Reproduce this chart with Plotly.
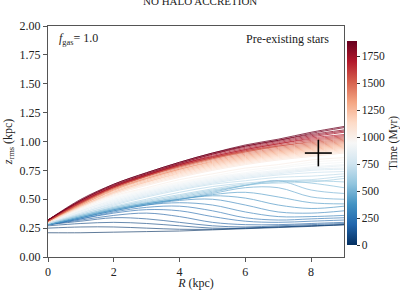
import plotly.graph_objects as go
from plotly.colors import sample_colorscale

R = [0, 1, 2, 3, 4, 5, 6, 7, 8, 9]

times = [0, 40, 80, 120, 160, 200, 240, 280, 320, 360, 400, 440, 480, 520, 560, 600,
         640, 680, 720, 760, 800, 840, 880, 920, 960, 1000,
         1040, 1080, 1120, 1160, 1200, 1240, 1280, 1320, 1360, 1400, 1440, 1480,
         1520, 1560, 1600, 1640, 1680, 1720, 1760, 1800, 1840, 1880]

zrms = [
    [0.21, 0.21, 0.215, 0.22, 0.225, 0.235, 0.245, 0.255, 0.265, 0.28],
    [0.25, 0.26, 0.26, 0.25, 0.24, 0.24, 0.25, 0.26, 0.27, 0.28],
    [0.27, 0.29, 0.30, 0.29, 0.27, 0.25, 0.25, 0.26, 0.27, 0.28],
    [0.28, 0.31, 0.34, 0.33, 0.30, 0.27, 0.26, 0.27, 0.28, 0.29],
    [0.28, 0.32, 0.36, 0.38, 0.35, 0.30, 0.28, 0.28, 0.29, 0.30],
    [0.28, 0.33, 0.38, 0.41, 0.40, 0.35, 0.31, 0.30, 0.31, 0.32],
    [0.28, 0.33, 0.39, 0.43, 0.44, 0.40, 0.34, 0.32, 0.33, 0.34],
    [0.28, 0.34, 0.40, 0.45, 0.47, 0.45, 0.39, 0.35, 0.35, 0.36],
    [0.28, 0.34, 0.40, 0.45, 0.49, 0.50, 0.45, 0.39, 0.38, 0.40],
    [0.28, 0.34, 0.41, 0.46, 0.50, 0.53, 0.51, 0.45, 0.42, 0.44],
    [0.28, 0.35, 0.41, 0.46, 0.50, 0.54, 0.56, 0.52, 0.47, 0.46],
    [0.28, 0.35, 0.41, 0.46, 0.50, 0.55, 0.60, 0.60, 0.52, 0.50],
    [0.28, 0.35, 0.42, 0.47, 0.51, 0.56, 0.62, 0.66, 0.58, 0.55],
    [0.29, 0.36, 0.42, 0.47, 0.52, 0.57, 0.62, 0.66, 0.64, 0.60],
    [0.29, 0.36, 0.43, 0.48, 0.53, 0.58, 0.62, 0.65, 0.66, 0.65],
    [0.29, 0.36, 0.43, 0.49, 0.54, 0.59, 0.63, 0.64, 0.65, 0.68],
    [0.29, 0.37, 0.44, 0.50, 0.56, 0.61, 0.64, 0.66, 0.67, 0.70],
    [0.29, 0.37, 0.45, 0.52, 0.58, 0.63, 0.66, 0.69, 0.70, 0.72],
    [0.29, 0.38, 0.46, 0.53, 0.59, 0.64, 0.68, 0.71, 0.73, 0.74],
    [0.29, 0.38, 0.47, 0.54, 0.60, 0.65, 0.69, 0.72, 0.75, 0.76],
    [0.30, 0.39, 0.48, 0.55, 0.61, 0.66, 0.70, 0.73, 0.76, 0.77],
    [0.30, 0.40, 0.49, 0.56, 0.62, 0.67, 0.71, 0.74, 0.77, 0.79],
    [0.30, 0.40, 0.50, 0.57, 0.63, 0.68, 0.72, 0.75, 0.78, 0.80],
    [0.30, 0.41, 0.51, 0.58, 0.64, 0.69, 0.73, 0.77, 0.80, 0.82],
    [0.30, 0.41, 0.52, 0.59, 0.65, 0.70, 0.75, 0.78, 0.82, 0.84],
    [0.30, 0.42, 0.53, 0.60, 0.67, 0.72, 0.77, 0.80, 0.84, 0.86],
    [0.30, 0.43, 0.54, 0.62, 0.69, 0.75, 0.80, 0.84, 0.87, 0.90],
    [0.30, 0.43, 0.55, 0.63, 0.70, 0.76, 0.81, 0.85, 0.88, 0.91],
    [0.30, 0.44, 0.55, 0.64, 0.71, 0.77, 0.82, 0.86, 0.89, 0.92],
    [0.30, 0.44, 0.56, 0.65, 0.72, 0.78, 0.83, 0.87, 0.90, 0.93],
    [0.31, 0.44, 0.56, 0.65, 0.73, 0.79, 0.84, 0.88, 0.91, 0.94],
    [0.31, 0.45, 0.57, 0.66, 0.74, 0.80, 0.85, 0.89, 0.92, 0.95],
    [0.31, 0.45, 0.58, 0.67, 0.75, 0.81, 0.86, 0.90, 0.93, 0.96],
    [0.31, 0.45, 0.58, 0.68, 0.76, 0.82, 0.87, 0.91, 0.94, 0.97],
    [0.31, 0.46, 0.59, 0.68, 0.76, 0.83, 0.88, 0.92, 0.95, 0.98],
    [0.31, 0.46, 0.59, 0.69, 0.77, 0.84, 0.89, 0.93, 0.96, 0.99],
    [0.31, 0.46, 0.60, 0.70, 0.78, 0.85, 0.90, 0.94, 0.97, 1.00],
    [0.31, 0.47, 0.60, 0.70, 0.78, 0.85, 0.91, 0.95, 0.98, 1.01],
    [0.31, 0.47, 0.60, 0.70, 0.79, 0.86, 0.91, 0.96, 0.99, 1.02],
    [0.31, 0.47, 0.60, 0.70, 0.79, 0.86, 0.92, 0.96, 1.00, 1.03],
    [0.32, 0.47, 0.61, 0.71, 0.79, 0.86, 0.92, 0.97, 1.01, 1.04],
    [0.32, 0.48, 0.61, 0.71, 0.80, 0.87, 0.93, 0.98, 1.02, 1.05],
    [0.32, 0.48, 0.61, 0.71, 0.80, 0.87, 0.93, 0.98, 1.03, 1.06],
    [0.32, 0.48, 0.61, 0.71, 0.80, 0.88, 0.94, 0.99, 1.04, 1.08],
    [0.32, 0.49, 0.62, 0.72, 0.81, 0.89, 0.95, 1.00, 1.05, 1.09],
    [0.32, 0.49, 0.62, 0.72, 0.81, 0.89, 0.96, 1.01, 1.06, 1.10],
    [0.32, 0.49, 0.63, 0.73, 0.82, 0.90, 0.96, 1.01, 1.07, 1.12],
    [0.32, 0.50, 0.63, 0.73, 0.82, 0.90, 0.97, 1.02, 1.08, 1.13],
]

t_max = 1890
obs_R, obs_z = [8.22], [0.90]
obs_dR, obs_dz = [0.41], [0.115]

rdbu_r = ['rgb(5,48,97)', 'rgb(33,102,172)', 'rgb(67,147,195)', 'rgb(146,197,222)',
          'rgb(209,229,240)', 'rgb(247,247,247)', 'rgb(253,219,199)', 'rgb(244,165,130)',
          'rgb(214,96,77)', 'rgb(178,24,43)', 'rgb(103,0,31)']
cscale = [[i / (len(rdbu_r) - 1), c] for i, c in enumerate(rdbu_r)]

FONT = "Liberation Serif"
fig = go.Figure()
for t, z in zip(times, zrms):
    col = sample_colorscale(cscale, [t / t_max])[0]
    fig.add_trace(go.Scatter(x=R, y=z, mode="lines",
                             line=dict(color=col, width=0.9, shape="spline", smoothing=1.0),
                             opacity=0.7 if t < 1000 else 0.85,
                             showlegend=False, hoverinfo="skip"))

fig.add_trace(go.Scatter(x=obs_R, y=obs_z, mode="markers",
                         marker=dict(size=1, color="black"),
                         error_x=dict(type="data", array=obs_dR, color="black", thickness=1.6, width=0),
                         error_y=dict(type="data", array=obs_dz, color="black", thickness=1.6, width=0),
                         showlegend=False))

fig.add_trace(go.Scatter(x=[None], y=[None], mode="markers",
                         marker=dict(color=[0], cmin=0, cmax=t_max, colorscale=cscale, showscale=True,
                                     colorbar=dict(x=1.0101, xanchor="left", xref="paper",
                                                   xpad=0, ypad=0,
                                                   y=0.4935, yanchor="middle",
                                                   len=204, lenmode="pixels", thickness=10,
                                                   outlinewidth=0,
                                                   tickvals=[0, 250, 500, 750, 1000, 1250, 1500, 1750],
                                                   ticks="outside", ticklen=3, tickcolor="#333",
                                                   tickfont=dict(family=FONT, size=11.5, color="#222"),
                                                   title=dict(text="Time (Myr)", side="right",
                                                              font=dict(family=FONT, size=11.5, color="#222")))),
                         showlegend=False, hoverinfo="skip"))

fig.update_layout(
    width=400, height=290,
    margin=dict(l=48, r=56, t=26, b=33, autoexpand=False),
    paper_bgcolor="white", plot_bgcolor="white",
    font=dict(family=FONT, size=12, color="#222"),
    xaxis=dict(range=[0, 9], tickvals=[0, 2, 4, 6, 8], showgrid=False, zeroline=False,
               showline=True, linecolor="#555", linewidth=1, mirror=True, automargin=False,
               ticks="outside", ticklen=4, tickcolor="#555",
               title=dict(text="<i>R</i> (kpc)", standoff=2, font=dict(size=12))),
    yaxis=dict(range=[0, 2], tickvals=[0, 0.25, 0.5, 0.75, 1.0, 1.25, 1.5, 1.75, 2.0],
               tickformat=".2f", showgrid=False, zeroline=False, automargin=False,
               showline=True, linecolor="#555", linewidth=1, mirror=True,
               ticks="outside", ticklen=4, tickcolor="#555",
               title=dict(text="<i>z</i><sub>rms</sub> (kpc)", standoff=4, font=dict(size=12))),
    annotations=[
        dict(text="NO HALO ACCRETION", x=0.5135, y=1.108, xref="paper", yref="paper",
             xanchor="center", yanchor="middle", showarrow=False, font=dict(size=11)),
        dict(text="<i>f</i><sub>gas</sub>= 1.0", x=0.03, y=0.945, xref="paper", yref="paper",
             xanchor="left", yanchor="middle", showarrow=False, font=dict(size=12)),
        dict(text="Pre-existing stars", x=0.955, y=0.945, xref="paper", yref="paper",
             xanchor="right", yanchor="middle", showarrow=False, font=dict(size=12)),
    ],
)
fig.write_html("out.html", config={"displayModeBar": False},
               post_script="document.body.style.margin='0';document.body.style.overflow='hidden';")
